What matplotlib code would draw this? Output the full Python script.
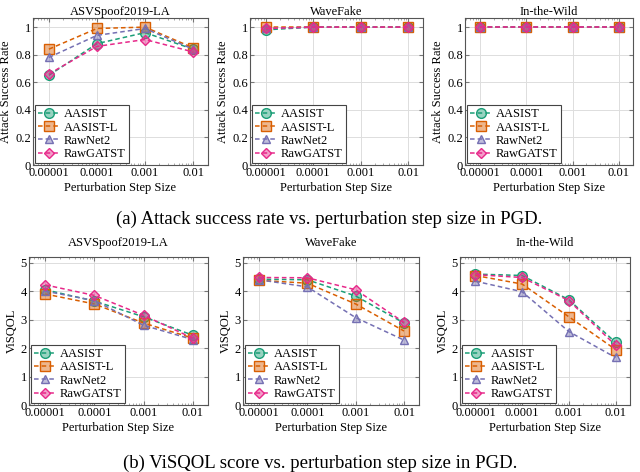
import numpy as np
import matplotlib
matplotlib.use("Agg")
import matplotlib.pyplot as plt
from matplotlib.colors import to_rgba
from matplotlib.ticker import LogLocator, NullFormatter

plt.rcParams["font.family"] = ["Liberation Serif", "DejaVu Serif"]
plt.rcParams["mathtext.fontset"] = "stix"

# ── data ─────────────────────────────────────────────
step_sizes = [1e-5, 1e-4, 1e-3, 1e-2]
step_labels = ["0.00001", "0.0001", "0.001", "0.01"]
models = ["AASIST", "AASIST-L", "RawNet2", "RawGATST"]
datasets = ["ASVSpoof2019-LA", "WaveFake", "In-the-Wild"]

asr_asvspoof = {
    "AASIST":   [0.65, 0.88, 0.96, 0.84],
    "AASIST-L": [0.84, 0.99, 1.00, 0.85],
    "RawNet2":  [0.78, 0.94, 0.99, 0.84],
    "RawGATST": [0.66, 0.86, 0.91, 0.82],
}
asr_wavefake = {
    "AASIST":   [0.98, 1.00, 1.00, 1.00],
    "AASIST-L": [1.00, 1.00, 1.00, 1.00],
    "RawNet2":  [0.99, 1.00, 1.00, 1.00],
    "RawGATST": [0.99, 1.00, 1.00, 1.00],
}
asr_itw = {
    "AASIST":   [1.00, 1.00, 1.00, 1.00],
    "AASIST-L": [1.00, 1.00, 1.00, 1.00],
    "RawNet2":  [1.00, 1.00, 1.00, 1.00],
    "RawGATST": [1.00, 1.00, 1.00, 1.00],
}

visqol_asvspoof = {
    "AASIST":   [4.05, 3.65, 3.10, 2.45],
    "AASIST-L": [3.90, 3.55, 2.88, 2.35],
    "RawNet2":  [4.00, 3.67, 2.80, 2.30],
    "RawGATST": [4.22, 3.85, 3.15, 2.35],
}
visqol_wavefake = {
    "AASIST":   [4.42, 4.40, 3.83, 2.88],
    "AASIST-L": [4.38, 4.28, 3.55, 2.60],
    "RawNet2":  [4.40, 4.15, 3.07, 2.28],
    "RawGATST": [4.48, 4.47, 4.05, 2.90],
}
visqol_itw = {
    "AASIST":   [4.60, 4.55, 3.70, 2.20],
    "AASIST-L": [4.55, 4.25, 3.10, 1.95],
    "RawNet2":  [4.35, 3.98, 2.58, 1.67],
    "RawGATST": [4.58, 4.48, 3.67, 2.10],
}

# ── styles ───────────────────────────────────────────
COLORS = {"AASIST": "#1b9e77", "AASIST-L": "#d95f02",
          "RawNet2": "#7570b3", "RawGATST": "#e7298a"}
MARKERS = {"AASIST": "o", "AASIST-L": "s", "RawNet2": "^", "RawGATST": "D"}
MSIZE = {"AASIST": 7, "AASIST-L": 7, "RawNet2": 6, "RawGATST": 5}
FS = 9


def draw_panel(ax, series, title, ylabel, ymax, yticks, title_pad):
    for m in models:
        c = COLORS[m]
        ax.plot(step_sizes, series[m], linestyle=(0, (3, 2)), color=c, linewidth=1.1,
                marker=MARKERS[m], markersize=MSIZE[m],
                markerfacecolor=to_rgba(c, 0.45), markeredgecolor=c,
                markeredgewidth=1.0, label=m, zorder=3)
    ax.set_xscale("log")
    ax.set_xlim(10 ** -5.33, 10 ** -1.69)
    ax.set_ylim(0, ymax)
    ax.set_xticks(step_sizes)
    ax.set_xticklabels(step_labels, fontsize=FS)
    ax.xaxis.set_minor_locator(LogLocator(base=10, subs=np.arange(2, 10)))
    ax.xaxis.set_minor_formatter(NullFormatter())
    ax.set_yticks(yticks)
    ax.set_yticklabels([("%g" % t) for t in yticks], fontsize=FS)
    ax.grid(True, which="major", color="#dddddd", linewidth=0.7)
    ax.set_axisbelow(True)
    for s in ax.spines.values():
        s.set_color("#555555")
        s.set_linewidth(0.8)
    ax.tick_params(which="major", direction="in", length=3, color="#777777",
                   pad=1.5, top=True, right=True)
    ax.tick_params(which="minor", direction="in", length=1.6, color="#999999",
                   top=True)
    ax.set_title(title, fontsize=FS, pad=title_pad)
    ax.set_ylabel(ylabel, fontsize=FS, labelpad=2)
    ax.set_xlabel("Perturbation Step Size", fontsize=FS, labelpad=2)
    leg = ax.legend(loc="lower left", fontsize=FS, frameon=True, fancybox=False,
                    borderpad=0.25, labelspacing=0.1, handlelength=1.7,
                    handletextpad=0.35, borderaxespad=0.15, framealpha=1)
    leg.get_frame().set_edgecolor("#444444")
    leg.get_frame().set_linewidth(0.8)


fig = plt.figure(figsize=(6.4, 4.72), dpi=100)
W, H = 640.0, 472.0


def add_axes(l, r, t, b):
    return fig.add_axes([l / W, 1 - b / H, (r - l) / W, (b - t) / H])


top_boxes = [(33, 208, 18, 165), (250, 423, 18, 165), (465, 633, 18, 165)]
bot_boxes = [(29, 208, 257, 405), (243, 419, 257, 405), (460, 630, 257, 405)]

asr_sets = [asr_asvspoof, asr_wavefake, asr_itw]
visqol_sets = [visqol_asvspoof, visqol_wavefake, visqol_itw]

for box, data, title in zip(top_boxes, asr_sets, datasets):
    ax = add_axes(*box)
    draw_panel(ax, data, title, "Attack Success Rate", 1.066,
               [0, 0.2, 0.4, 0.6, 0.8, 1], 2.5)

for box, data, title in zip(bot_boxes, visqol_sets, datasets):
    ax = add_axes(*box)
    draw_panel(ax, data, title, "ViSQOL", 5.2, [0, 1, 2, 3, 4, 5], 8)

fig.text(0.514, 1 - 219 / H, "(a) Attack success rate vs. perturbation step size in PGD.",
         ha="center", va="center", fontsize=13.5)
fig.text(0.5, 1 - 463 / H, "(b) ViSQOL score vs. perturbation step size in PGD.",
         ha="center", va="center", fontsize=13.5)

fig.savefig("out.png", dpi=100)
